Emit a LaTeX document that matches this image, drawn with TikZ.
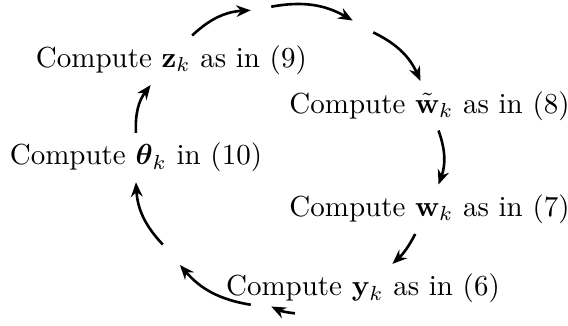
\documentclass[tikz,border=0pt]{standalone}
\usepackage{amsmath,amssymb}
\usepackage{tikz}
\usetikzlibrary{arrows.meta}

\begin{document}
\begin{tikzpicture}[
  cyclearrow/.style={-{Stealth[length=5pt,width=4pt]}, line width=0.9pt, bend left=20}
]
  \useasboundingbox (-3.482,-2.030) rectangle (3.402,1.909);
  \node (theta) at (180:1.834) {Compute $\boldsymbol{\theta}_k$ in (10)};
  \node (z)     at (140:1.834) {Compute $\mathbf{z}_k$ as in (9)};
  \node (topa)  at (100:1.834) {};
  \node (topb)  at (60:1.834)  {};
  \node (wt)    at (20:1.834)  {Compute $\tilde{\mathbf{w}}_k$ as in (8)};
  \node (w)     at (-20:1.834) {Compute $\mathbf{w}_k$ as in (7)};
  \node (y)     at (-60:1.834) {Compute $\mathbf{y}_k$ as in (6)};
  \node (bota)  at (-100:1.834) {};
  \node (botb)  at (-140:1.834) {};
  \draw[cyclearrow] (theta) to (z);
  \draw[cyclearrow] (z) to (topa);
  \draw[cyclearrow] (topa) to (topb);
  \draw[cyclearrow] (topb) to (wt);
  \draw[cyclearrow] (wt) to (w);
  \draw[cyclearrow, bend left=10] (w) to (y);
  \draw[cyclearrow, bend left=10] (y) to (bota);
  \draw[cyclearrow] (bota) to (botb);
  \draw[cyclearrow] (botb) to (theta);
\end{tikzpicture}
\end{document}
